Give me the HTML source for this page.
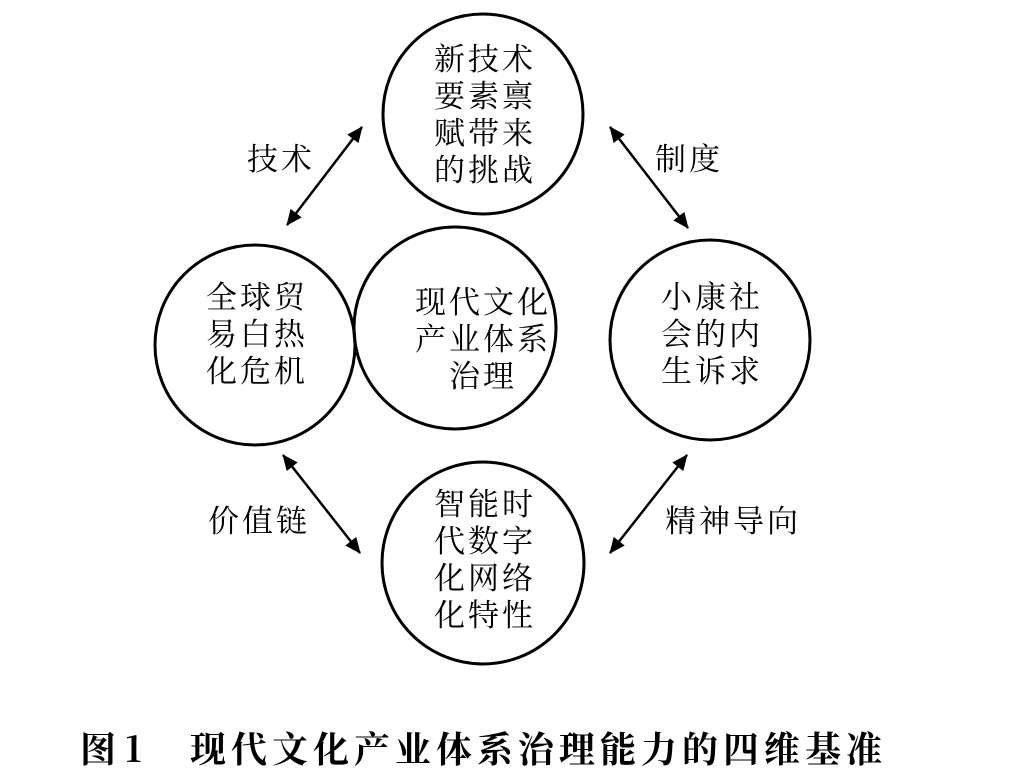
<!DOCTYPE html>
<html><head><meta charset="utf-8"><style>
html,body{margin:0;padding:0;background:#fff;}
svg{display:block;}
text{font-family:"Noto Serif CJK SC","Liberation Serif",serif;fill:#000;}
</style></head><body>
<svg width="1012" height="779" viewBox="0 0 1012 779" xmlns="http://www.w3.org/2000/svg">
<defs>
<marker id="a" markerWidth="16" markerHeight="14" refX="15" refY="7" orient="auto-start-reverse" markerUnits="userSpaceOnUse" viewBox="0 0 16 14">
<path d="M0,0 L16,7 L0,14 z" fill="#000"/>
</marker>
</defs>
<g fill="none" stroke="#000" stroke-width="3">
<circle cx="483" cy="114" r="100"/>
<circle cx="455" cy="328" r="101"/>
<circle cx="255" cy="345" r="100"/>
<circle cx="710" cy="340" r="100"/>
<circle cx="483" cy="563" r="101"/>
</g>
<g stroke="#000" stroke-width="2.5" marker-start="url(#a)" marker-end="url(#a)">
<line x1="287" y1="225" x2="362" y2="127"/>
<line x1="610" y1="127" x2="688" y2="228"/>
<line x1="283" y1="455" x2="360" y2="553"/>
<line x1="687" y1="455" x2="610" y2="553"/>
</g>
<g font-size="31" text-anchor="middle" letter-spacing="3">
<text x="485" y="70">新技术</text>
<text x="485" y="107">要素禀</text>
<text x="485" y="144">赋带来</text>
<text x="485" y="181">的挑战</text>
<text x="483" y="313">现代文化</text>
<text x="483" y="350">产业体系</text>
<text x="483" y="387">治理</text>
<text x="257" y="308">全球贸</text>
<text x="257" y="345">易白热</text>
<text x="257" y="382">化危机</text>
<text x="712" y="308">小康社</text>
<text x="712" y="345">会的内</text>
<text x="712" y="382">生诉求</text>
<text x="485" y="515">智能时</text>
<text x="485" y="552">代数字</text>
<text x="485" y="589">化网络</text>
<text x="485" y="626">化特性</text>
</g>
<g font-size="31" letter-spacing="3">
<text x="247" y="170">技术</text>
<text x="655" y="170">制度</text>
<text x="208" y="532">价值链</text>
<text x="665" y="532">精神导向</text>
</g>
<g font-size="36" font-weight="bold">
<text x="80" y="762">图 1</text>
<text x="190" y="762" letter-spacing="5">现代文化产业体系治理能力的四维基准</text>
</g>
</svg>
</body></html>
